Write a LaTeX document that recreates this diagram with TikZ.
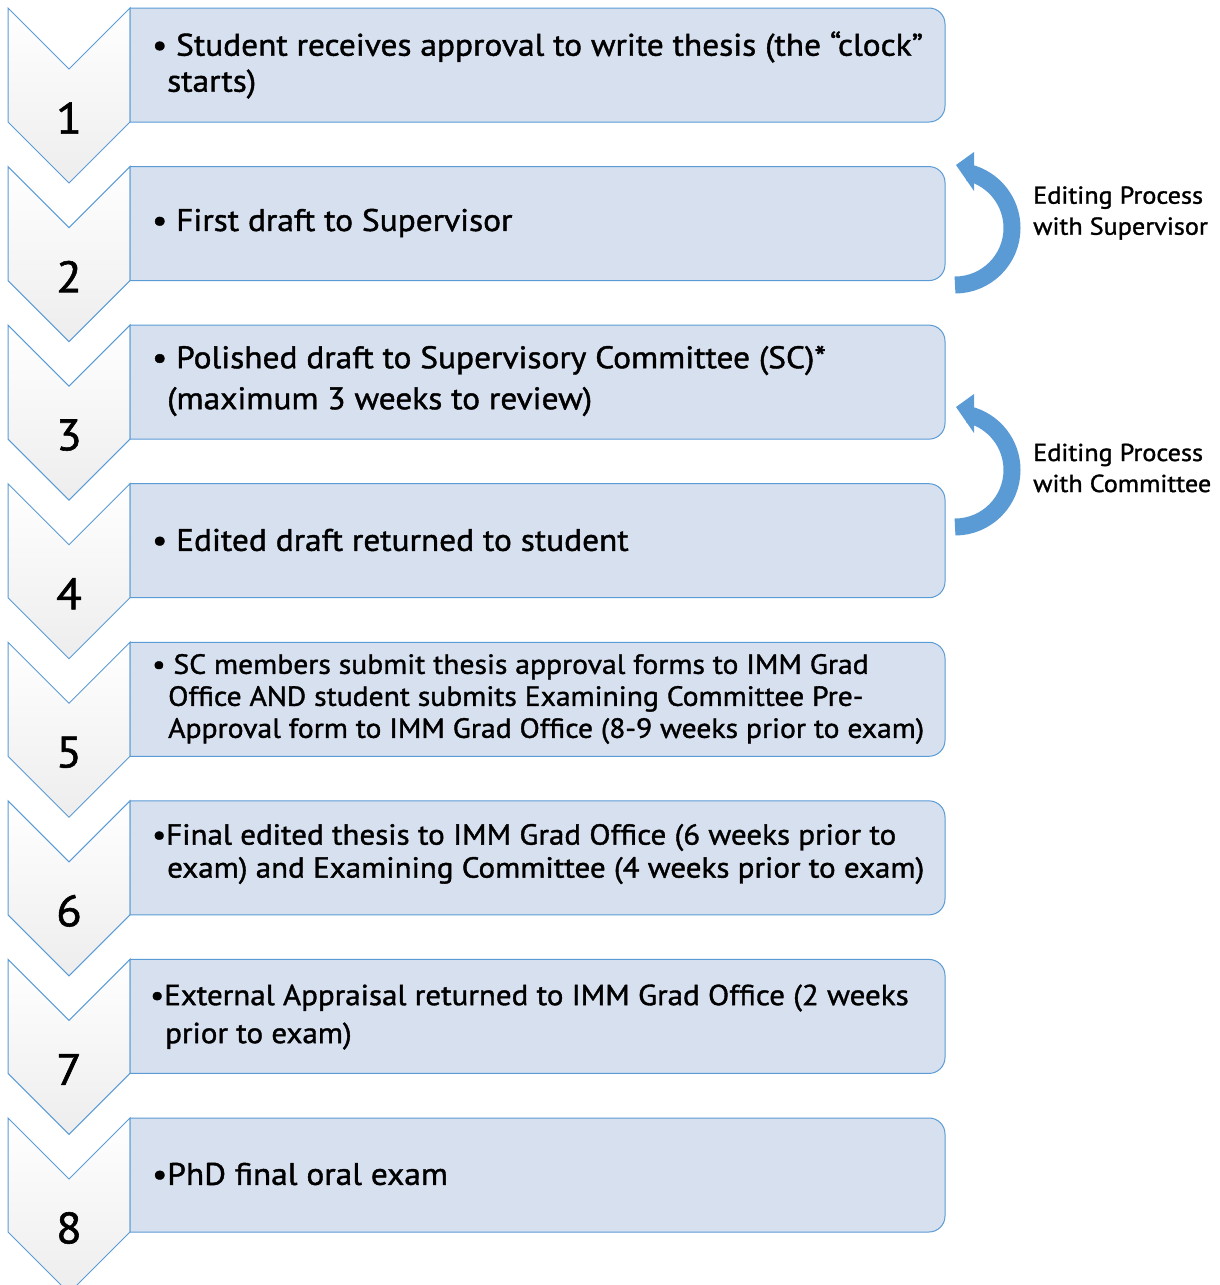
\documentclass[tikz,border=0pt]{standalone}
\usepackage{fontspec}
\setmainfont{PT Sans}[FakeStretch=1.07, FakeBold=1.3]
\usetikzlibrary{positioning}

\definecolor{stepblue}{HTML}{5B9BD5}
\definecolor{boxfill}{HTML}{D6E0EF}

\tikzset{
  loop arrow/.pic={
    \draw[stepblue, line width=17pt] (0,57) arc[start angle=90, end angle=-76, radius=57];
    \fill[stepblue] (19,-76) -- (1,-63) -- (19,-37) -- cycle;
  }
}

\begin{document}
\begin{tikzpicture}[x=1pt, y=-1pt,
    chevron/.style={draw=stepblue, line width=1pt, top color=white, middle color=white, bottom color=black!7},
    stepbox/.style={draw=stepblue, line width=1pt, fill=boxfill},
    stepnum/.style={font=\fontsize{44}{44}\selectfont},
    steptext/.style={anchor=west, align=left, inner sep=0pt, font=\fontsize{31.2}{36}\selectfont},
    loopcap/.style={anchor=west, align=left, inner sep=0pt, font=\fontsize{24.5}{31}\selectfont}]
    \useasboundingbox (0,0) rectangle (1219,1285);

    % chevrons and boxes
    \foreach \i in {1,...,8} {
        \pgfmathsetmacro\t{8+(\i-1)*158.57}
        \draw[chevron] (8,\t) -- (69,\t+61) -- (130,\t) -- (130,\t+114) -- (69,\t+175) -- (8,\t+114) -- cycle;
        \draw[stepbox] (130,\t) -- (929,\t) arc[start angle=-90, end angle=0, radius=16]
            -- (945,\t+98) arc[start angle=0, end angle=90, radius=16] -- (130,\t+114) -- cycle;
        \node[stepnum] (num\i) at (69,\t+110) {\i};
    }

    % step texts
    \node[steptext] (txt1) at (152,65) {• Student receives approval to write thesis (the “clock”\\\hspace{15pt}starts)};
    \node[steptext] (txt2) at (152,223) {• First draft to Supervisor};
    \node[steptext, font=\fontsize{31.2}{41}\selectfont] (txt3) at (152,381) {• Polished draft to Supervisory Committee (SC)*\\\hspace{15pt}(maximum 3 weeks to review)};
    \node[steptext] (txt4) at (152,540) {• Edited draft returned to student};
    \node[steptext, font=\fontsize{27.7}{32}\selectfont] (txt5) at (152,699) {• SC members submit thesis approval forms to IMM Grad\\\hspace{16pt}Office AND student submits Examining Committee Pre-\\\hspace{16pt}Approval form to IMM Grad Office (8-9 weeks prior to exam)};
    \node[steptext, font=\fontsize{29}{33}\selectfont] (txt6) at (152,854) {•Final edited thesis to IMM Grad Office (6 weeks prior to\\\hspace{15pt}exam) and Examining Committee (4 weeks prior to exam)};
    \node[steptext, font=\fontsize{29}{38}\selectfont] (txt7) at (150,1017) {•External Appraisal returned to IMM Grad Office (2 weeks\\\hspace{15pt}prior to exam)};
    \node[steptext] (txt8) at (152,1174) {•PhD final oral exam};

    % editing loops
    \pic at (955,228) {loop arrow};
    \pic at (955,470) {loop arrow};
    \node[loopcap] (edit1) at (1033,213) {Editing Process\\with Supervisor};
    \node[loopcap] (edit2) at (1033,468) {Editing Process\\with Committee};
\end{tikzpicture}
\end{document}
